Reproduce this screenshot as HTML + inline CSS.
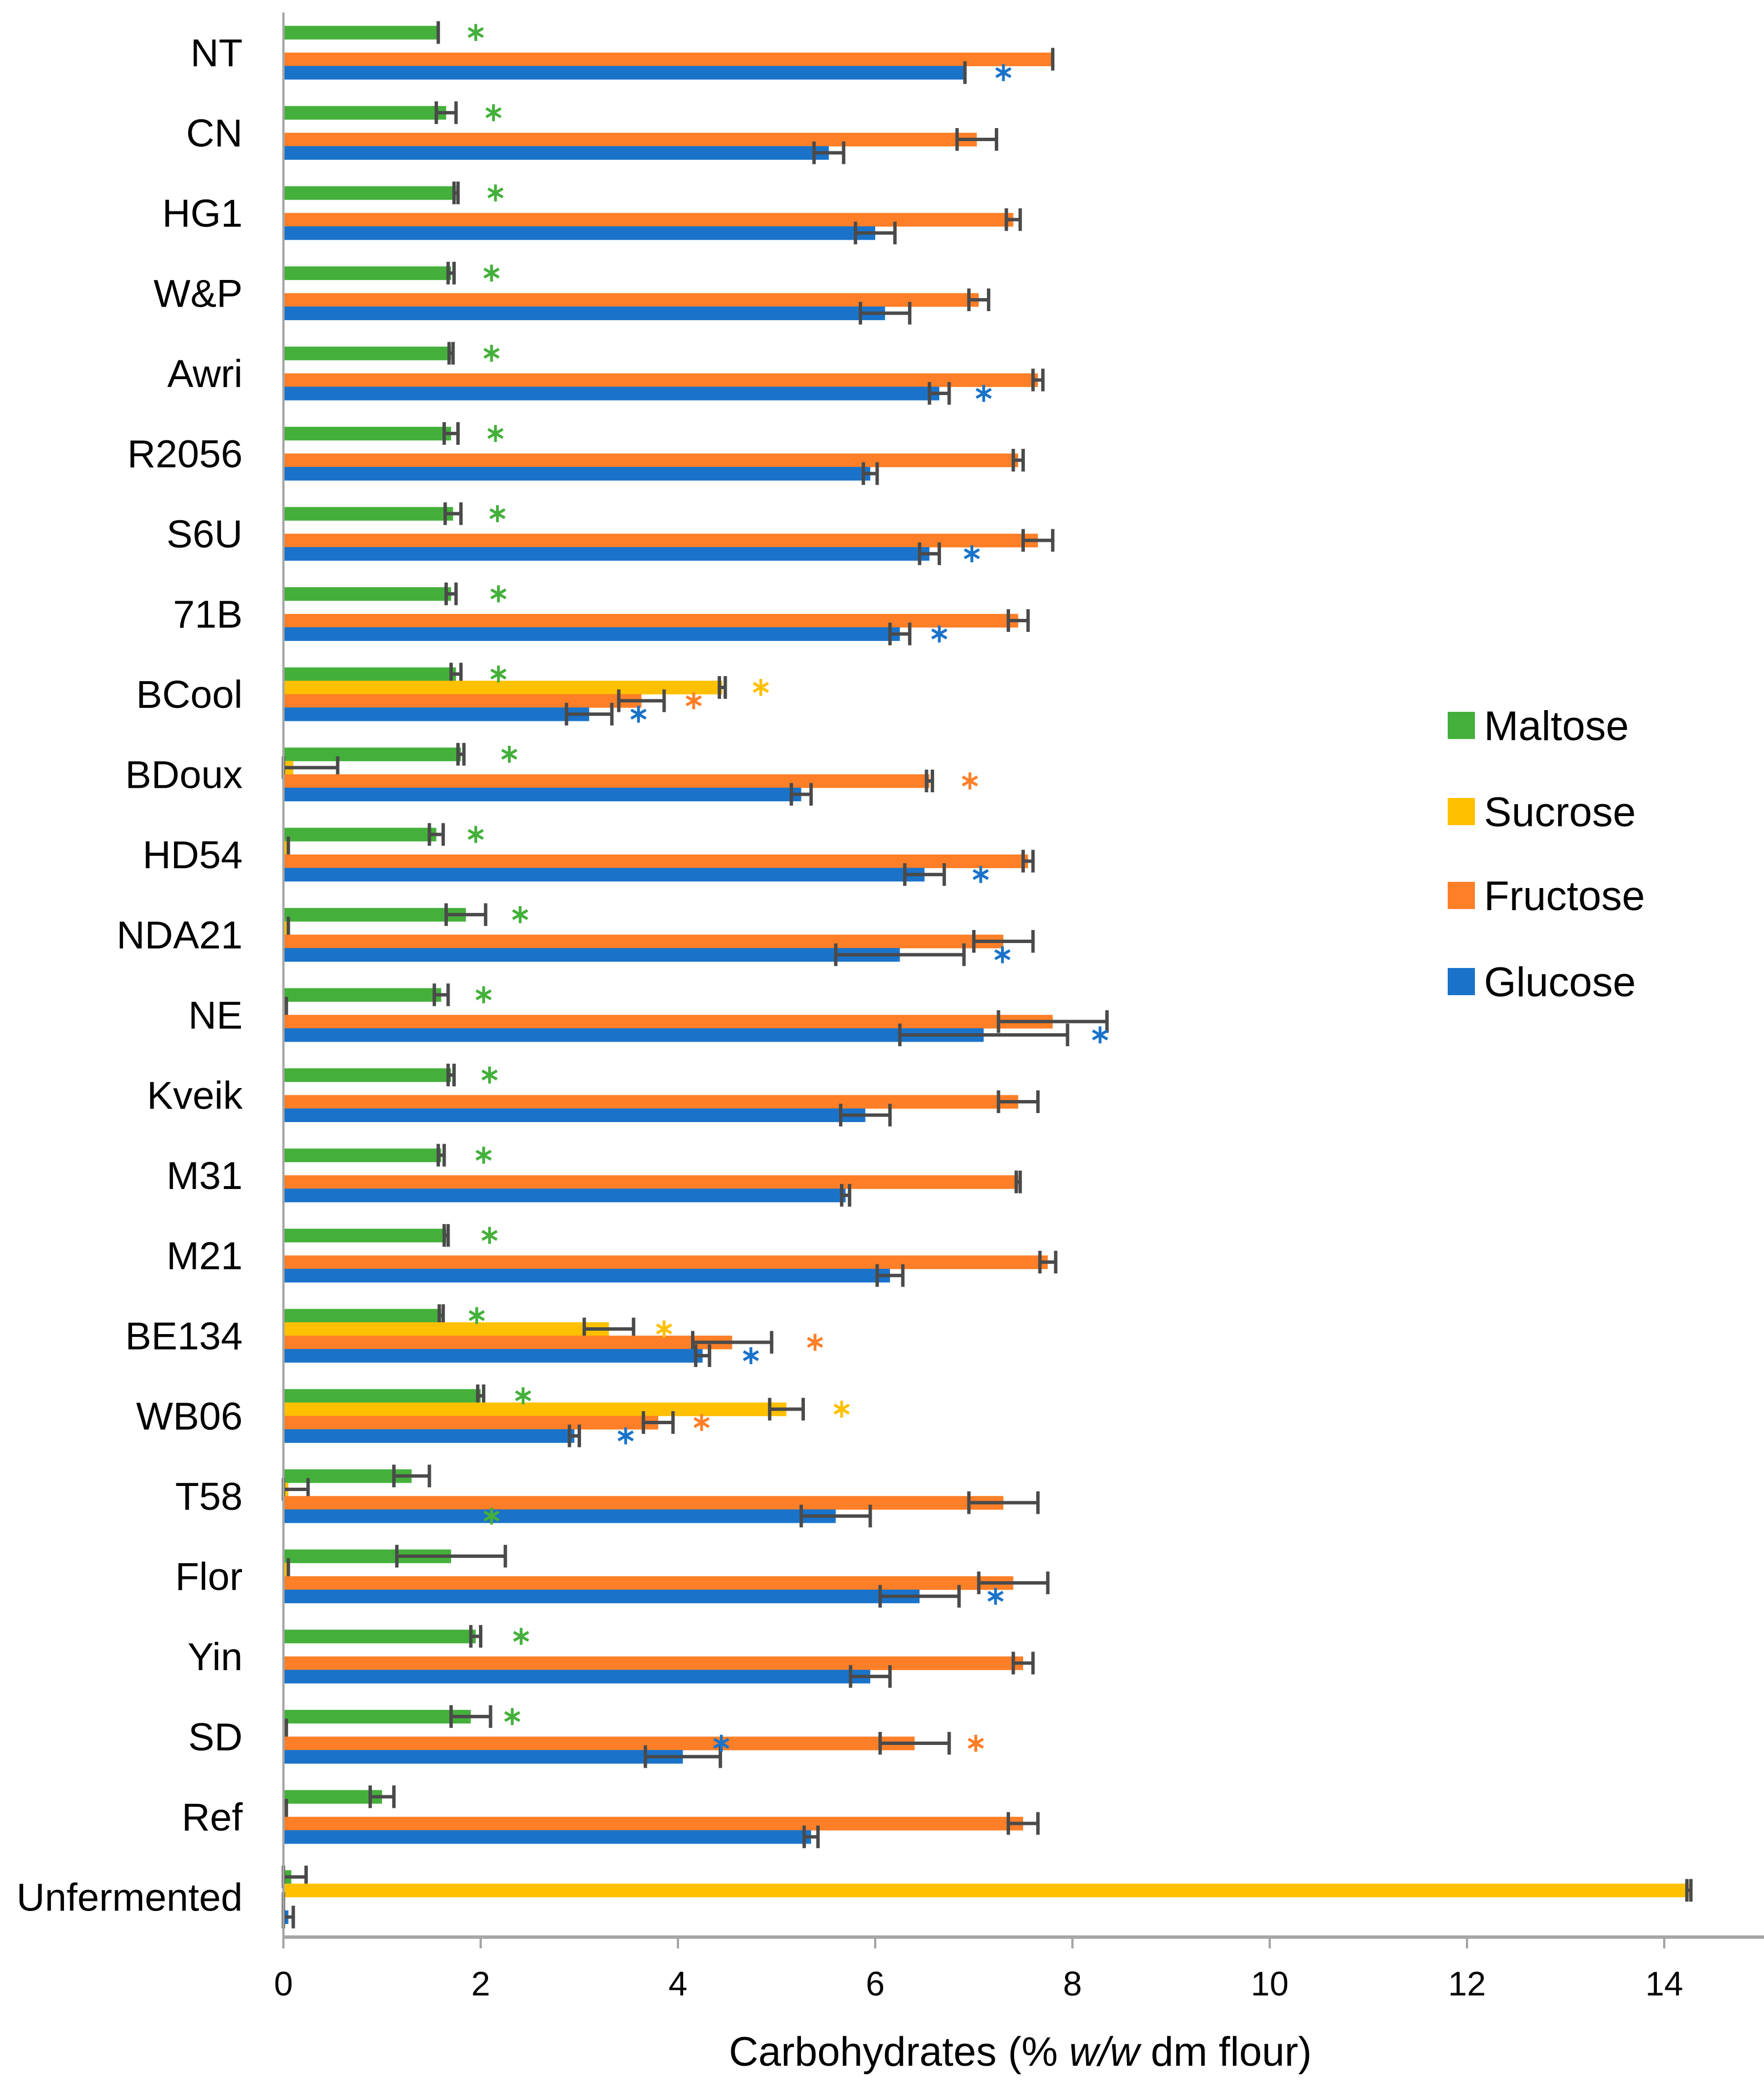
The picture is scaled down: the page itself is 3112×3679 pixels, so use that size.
<!DOCTYPE html>
<html><head><meta charset="utf-8"><style>
html,body{margin:0;padding:0;background:#fff;}
svg{display:block;font-family:"Liberation Sans",sans-serif;}
</style></head><body>
<svg id="chart" width="3112" height="3679" viewBox="0 0 3112 3679" xmlns="http://www.w3.org/2000/svg">
<g id="plot"></g>
</svg>
<script>
const categories = ["NT","CN","HG1","W&P","Awri","R2056","S6U","71B","BCool","BDoux","HD54","NDA21","NE","Kveik","M31","M21","BE134","WB06","T58","Flor","Yin","SD","Ref","Unfermented"];
const seriesNames = ["Maltose","Sucrose","Fructose","Glucose"];
const maltose = [1.57,1.65,1.75,1.7,1.7,1.7,1.72,1.7,1.75,1.8,1.55,1.85,1.6,1.7,1.6,1.65,1.6,2.0,1.3,1.7,1.95,1.9,1.0,0.08];
const maltoseErr = [0,0.1,0.02,0.03,0.02,0.07,0.08,0.05,0.05,0.03,0.07,0.2,0.07,0.03,0.03,0.02,0.02,0.03,0.18,0.55,0.05,0.2,0.12,0.15];
const sucrose = [0,0,0,0,0,0,0,0,4.45,0.1,0.05,0.05,0.03,0,0,0,3.3,5.1,0.05,0.05,0,0.03,0.03,14.25];
const sucroseErr = [0,0,0,0,0,0,0,0,0.03,0.45,0,0,0,0,0,0,0.25,0.17,0.2,0,0,0,0,0.02];
const fructose = [7.8,7.03,7.4,7.05,7.65,7.45,7.65,7.45,3.63,6.55,7.55,7.3,7.8,7.45,7.45,7.75,4.55,3.8,7.3,7.4,7.5,6.4,7.5,0];
const fructoseErr = [0,0.2,0.07,0.1,0.05,0.05,0.15,0.1,0.23,0.03,0.05,0.3,0.55,0.2,0.02,0.08,0.4,0.15,0.35,0.35,0.1,0.35,0.15,0];
const glucose = [6.91,5.53,6.0,6.1,6.65,5.95,6.55,6.25,3.1,5.25,6.5,6.25,7.1,5.9,5.7,6.15,4.25,2.95,5.6,6.45,5.95,4.05,5.35,0.05];
const glucoseErr = [0,0.15,0.2,0.25,0.1,0.07,0.1,0.1,0.23,0.1,0.2,0.65,0.85,0.25,0.04,0.13,0.07,0.05,0.35,0.4,0.2,0.38,0.07,0.05];
// significance stars: [category index, bar row, x value, colour series]
const stars = [[0,0,1.95,0],[0,3,7.3,3],[1,0,2.13,0],[2,0,2.15,0],[3,0,2.11,0],[4,0,2.11,0],[4,3,7.1,3],[5,0,2.15,0],[6,0,2.17,0],[6,3,6.98,3],[7,0,2.18,0],[7,3,6.65,3],[8,0,2.18,0],[8,1,4.84,1],[8,2,4.16,2],[8,3,3.6,3],[9,0,2.29,0],[9,2,6.96,2],[10,0,1.95,0],[10,3,7.07,3],[11,0,2.4,0],[11,3,7.29,3],[12,0,2.03,0],[12,3,8.28,3],[13,0,2.09,0],[14,0,2.03,0],[15,0,2.09,0],[16,0,1.96,0],[16,1,3.86,1],[16,2,5.39,2],[16,3,4.74,3],[17,0,2.43,0],[17,1,5.66,1],[17,2,4.24,2],[17,3,3.47,3],[18,3,2.11,0],[19,3,7.22,3],[20,0,2.41,0],[21,0,2.32,0],[21,2,4.44,3],[21,2,7.02,2]];
const xTicks = [0,2,4,6,8,10,12,14];

const colors = ["#44B03B","#FFC000","#FE7F27","#1A73C9"];
const NS="http://www.w3.org/2000/svg";
const g=document.getElementById('plot');
const X0=500, UNIT=174, TOP=22, BOT=3418;
const band=(BOT-TOP)/categories.length, bh=band/6;
const xs=v=>X0+v*UNIT;
const rowY=(i,r)=>TOP+i*band+bh+r*bh;
function el(t,a){const e=document.createElementNS(NS,t);for(const k in a)e.setAttribute(k,a[k]);g.appendChild(e);return e;}
const vals=[maltose,sucrose,fructose,glucose], errs=[maltoseErr,sucroseErr,fructoseErr,glucoseErr];
categories.forEach((c,i)=>{
  const t=el('text',{x:428,y:TOP+i*band+band/2+24,'text-anchor':'end','font-size':69,fill:'#000'});
  t.textContent=c;
  
  
  for(let s=0;s<4;s++){
    const v=vals[s][i], y=rowY(i,s);
    if(v>0){
      const r=el('rect',{x:X0,y:y,width:v*UNIT,height:bh+0.5,fill:colors[s]});
      
      
    }
    const e=errs[s][i];
    if(e>0 || v>0 || s!==1){
      const cy=y+bh/2, a=xs(Math.max(0,v-e)), b=xs(v+e);
      const eg=el('path',{d:`M${a},${cy}H${b}M${a},${cy-20}V${cy+20}M${b},${cy-20}V${cy+20}`,stroke:'#4a4a4a','stroke-width':6,fill:'none'});
      
      
    }
  }
});
stars.forEach(st=>{
  const cx=xs(st[2]), cy=rowY(st[0],st[1])+bh/2, r=15;
  let d='';
  for(let k=0;k<3;k++){const a=Math.PI/2+k*Math.PI/3;d+=`M${cx-r*Math.cos(a)},${cy-r*Math.sin(a)}L${cx+r*Math.cos(a)},${cy+r*Math.sin(a)}`;}
  const p=el('path',{d:d,stroke:colors[st[3]],'stroke-width':5,fill:'none'});
  
  
});
const ya=el('line',{x1:X0,y1:TOP,x2:X0,y2:BOT,stroke:'#A6A6A6','stroke-width':4});


const xa=el('line',{x1:X0,y1:BOT,x2:3112,y2:BOT,stroke:'#A6A6A6','stroke-width':6});


xTicks.forEach(v=>{
  const tk=el('line',{x1:xs(v),y1:BOT,x2:xs(v),y2:BOT+20,stroke:'#A6A6A6','stroke-width':4});
  
  
  const tl=el('text',{x:xs(v),y:3521,'text-anchor':'middle','font-size':60,fill:'#000'});
  tl.textContent=v;
  
  
});
const title=el('text',{x:1800,y:3645,'text-anchor':'middle','font-size':72,fill:'#000'});
title.innerHTML='Carbohydrates (% <tspan font-style="italic">w/w</tspan> dm flour)';


const legY=[1280,1432,1580,1732];
seriesNames.forEach((n,s)=>{
  const r=el('rect',{x:2554,y:legY[s]-24,width:48,height:48,fill:colors[s]});
  
  
  const t=el('text',{x:2618,y:legY[s]+26,'font-size':73,fill:'#000'});
  t.textContent=n;
  
  
});
</script>
</body></html>
